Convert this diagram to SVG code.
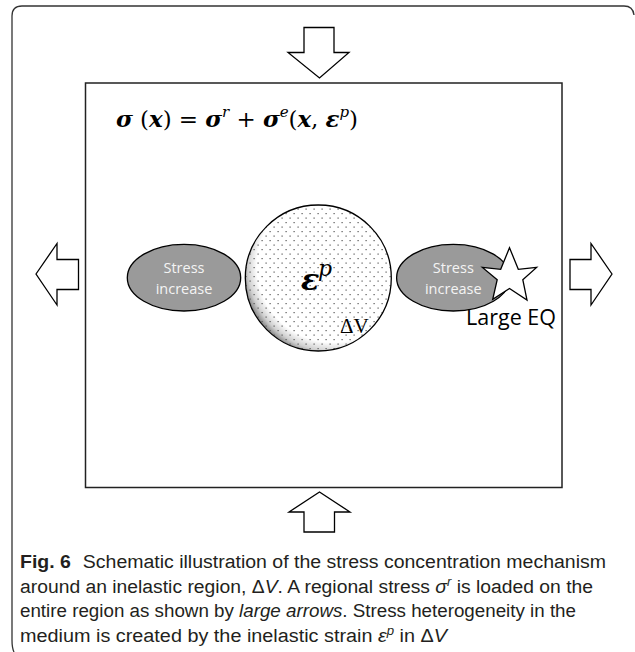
<svg xmlns="http://www.w3.org/2000/svg" width="635" height="652" viewBox="0 0 635 652">
<style>
.frame{fill:none;stroke:#333;stroke-width:1.3}
.arrow{fill:#fff;stroke:#000;stroke-width:1.3;stroke-linejoin:miter}
.ell{fill:#9a9a9a;stroke:#000;stroke-width:1.3}
.etxt{font-family:"Open Sans","Liberation Sans",sans-serif;font-size:14.5px;fill:#f4f4f4;text-anchor:middle}
.math{font-family:"Liberation Serif","DejaVu Serif",serif;fill:#000}
.eq{font-family:"DejaVu Serif","Liberation Serif",serif;fill:#000}
.bi{font-weight:bold;font-style:italic}
.it{font-style:italic}
.cap{font-family:"Liberation Sans","DejaVu Sans",sans-serif;font-size:18px;fill:#231f20}
</style>
<defs>
<radialGradient id="shade" cx="0.6" cy="0.42" r="0.62" fx="0.6" fy="0.42">
<stop offset="0" stop-color="#fff"/>
<stop offset="0.84" stop-color="#fff"/>
<stop offset="0.94" stop-color="#d0d0d0"/>
<stop offset="1" stop-color="#909090"/>
</radialGradient>
<pattern id="dots" patternUnits="userSpaceOnUse" width="8" height="9">
<rect x="1.5" y="1.5" width="1.2" height="1.2" fill="#555"/>
<rect x="5.5" y="6" width="1.2" height="1.2" fill="#555"/>
</pattern>
</defs>

<path class="frame" d="M14,652 Q12,648 12,640 V16 Q12,6 22,6 H624 Q633,6 634,15"/>

<g id="region">
<rect x="85.5" y="83" width="476.5" height="404.5" fill="#fff" stroke="#222" stroke-width="1.5"/>
</g>

<g id="equation">
<text class="eq" x="116" y="127" font-size="23" textLength="242" lengthAdjust="spacing" xml:space="preserve"><tspan class="bi">σ</tspan> (<tspan class="bi">x</tspan>) = <tspan class="bi">σ</tspan><tspan class="it" font-size="15" dy="-10">r</tspan><tspan dy="10"> + </tspan><tspan class="bi">σ</tspan><tspan class="it" font-size="15" dy="-10">e</tspan><tspan dy="10">(</tspan><tspan class="bi">x</tspan>, <tspan class="bi">ε</tspan><tspan class="it" font-size="15" dy="-10">p</tspan><tspan dy="10">)</tspan></text>
</g>

<g id="arrows">
<polygon id="arrow-top" class="arrow" points="304,27.5 334,27.5 334,52.5 349,52.5 319.5,78 288,52.5 304,52.5"/>
<polygon id="arrow-bottom" class="arrow" points="319.5,492 350,512 334.5,512 334.5,532 304,532 304,512 289,512"/>
<polygon id="arrow-left" class="arrow" points="36,274 57,243.5 57,259.5 78.5,259.5 78.5,289.5 57,289.5 57,305"/>
<polygon id="arrow-right" class="arrow" points="612,274 591,243.5 591,259.5 570,259.5 570,289.5 591,289.5 591,305"/>
</g>

<g id="stress-left">
<ellipse class="ell" cx="184" cy="277.7" rx="56.7" ry="33.3"/>
<text class="etxt" x="184" y="273">Stress</text>
<text class="etxt" x="184" y="294">increase</text>
</g>

<g id="stress-right">
<ellipse class="ell" cx="453.3" cy="277.7" rx="56.7" ry="33.3"/>
<text class="etxt" x="453.3" y="273">Stress</text>
<text class="etxt" x="453.3" y="294">increase</text>
</g>

<g id="inelastic">
<circle cx="318.3" cy="278" r="73" fill="url(#shade)"/>
<circle cx="318.3" cy="278" r="73" fill="url(#dots)" stroke="#000" stroke-width="1.3"/>
<text class="eq bi" x="301" y="290" font-size="30">ε</text>
<text class="eq it" x="318" y="276" font-size="22">p</text>
<text class="math" x="340" y="333" font-size="21">ΔV</text>
</g>

<g id="large-eq">
<polygon fill="#fff" stroke="#000" stroke-width="1.3" points="509.5,247.7 518.3,269.3 536.6,267.4 522.8,279.7 527,300 509.5,288.5 492.7,299.3 497.2,279.7 482.4,267.4 500.7,269.3"/>
<text x="466" y="325" font-family="'Open Sans','Liberation Sans',sans-serif" font-size="21.5" fill="#000">Large EQ</text>
</g>

<g id="caption">
<text class="cap" x="20" y="568" textLength="586" lengthAdjust="spacingAndGlyphs"><tspan font-weight="bold">Fig. 6</tspan><tspan dx="6"> Schematic illustration of the stress concentration mechanism</tspan></text>
<text class="cap" x="20" y="593" textLength="573" lengthAdjust="spacingAndGlyphs">around an inelastic region, Δ<tspan class="it">V</tspan>. A regional stress <tspan class="it">σ</tspan><tspan class="it" font-size="12" dy="-7">r</tspan><tspan dy="7"> is loaded on the</tspan></text>
<text class="cap" x="20" y="617" textLength="556" lengthAdjust="spacingAndGlyphs">entire region as shown by <tspan class="it">large arrows</tspan>. Stress heterogeneity in the</text>
<text class="cap" x="20" y="642" textLength="427" lengthAdjust="spacingAndGlyphs">medium is created by the inelastic strain <tspan class="it">ε</tspan><tspan class="it" font-size="12" dy="-7">p</tspan><tspan dy="7"> in Δ</tspan><tspan class="it">V</tspan></text>
</g>
</svg>
